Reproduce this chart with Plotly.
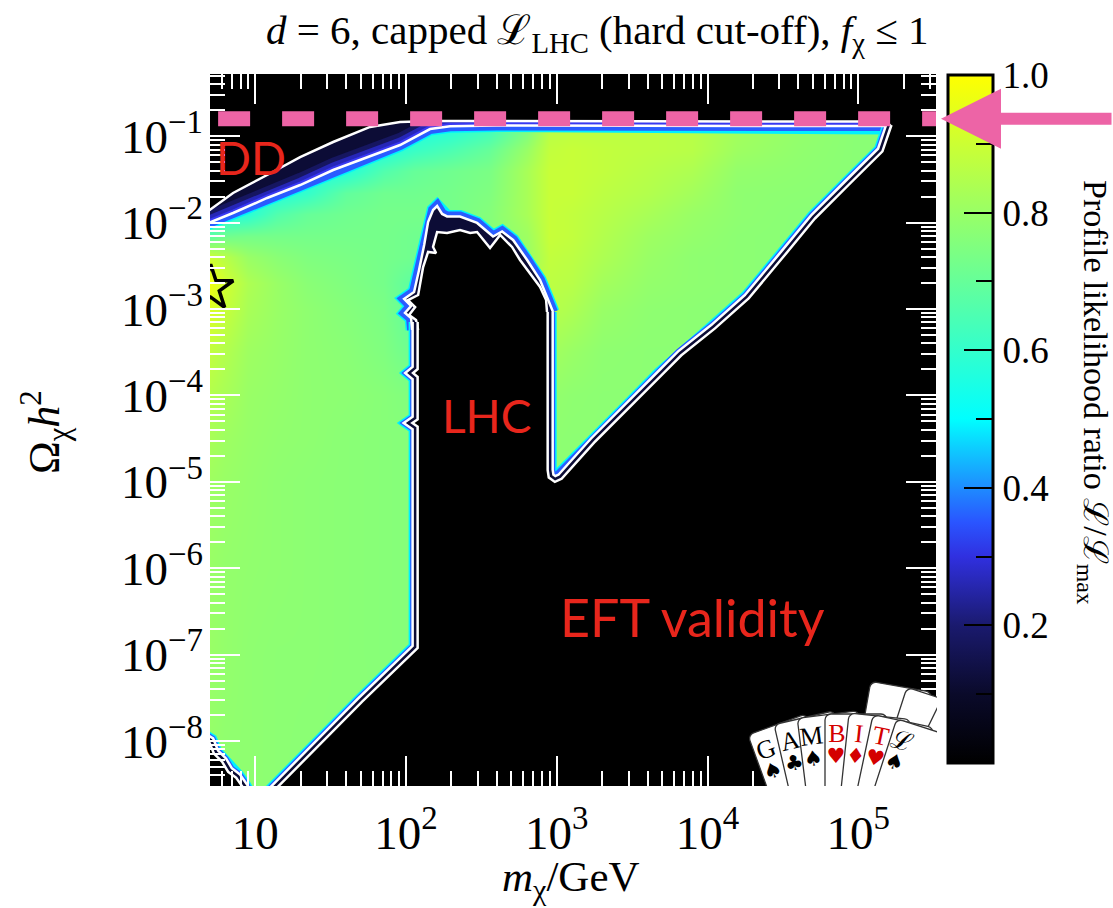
import base64
import numpy as np
import plotly.graph_objects as go

# ------------------------------------------------------------------ data
# Profile likelihood ratio read on a coarse grid (m_chi in GeV, Omega h^2)
hm_mass = [5, 6.3, 8.9, 14, 22, 40, 71, 112, 200, 355, 630, 890, 1260, 2000,
           4000, 7900, 15800, 40000, 1e5, 3.3e5]
hm_omega = [3e-9, 1e-7, 1e-6, 1e-5, 3.2e-5, 1e-4, 3.2e-4, 1e-3, 2e-3, 4e-3,
            7e-3, 1.26e-2, 2.2e-2, 4e-2, 7e-2, 0.126, 0.52]
hm_like = [
    [0.79, 0.78, 0.78, 0.775, 0.77, 0.77, 0.77, 0.77, 0.77, 0.77, 0.77, 0.77, 0.77, 0.77, 0.77, 0.77, 0.77, 0.77, 0.77, 0.77],
    [0.80, 0.79, 0.78, 0.775, 0.775, 0.77, 0.765, 0.76, 0.77, 0.77, 0.77, 0.77, 0.77, 0.77, 0.77, 0.77, 0.77, 0.77, 0.77, 0.77],
    [0.80, 0.79, 0.785, 0.78, 0.775, 0.77, 0.765, 0.76, 0.77, 0.77, 0.77, 0.77, 0.77, 0.77, 0.77, 0.77, 0.77, 0.77, 0.77, 0.77],
    [0.81, 0.80, 0.79, 0.78, 0.775, 0.77, 0.765, 0.76, 0.77, 0.77, 0.77, 0.78, 0.775, 0.77, 0.77, 0.77, 0.77, 0.77, 0.77, 0.77],
    [0.83, 0.81, 0.795, 0.785, 0.78, 0.77, 0.765, 0.76, 0.77, 0.77, 0.78, 0.78, 0.775, 0.775, 0.77, 0.77, 0.77, 0.77, 0.77, 0.77],
    [0.85, 0.83, 0.80, 0.79, 0.78, 0.775, 0.765, 0.75, 0.77, 0.77, 0.78, 0.79, 0.78, 0.775, 0.775, 0.77, 0.77, 0.77, 0.77, 0.77],
    [0.88, 0.85, 0.81, 0.795, 0.78, 0.77, 0.75, 0.71, 0.77, 0.78, 0.80, 0.82, 0.80, 0.78, 0.775, 0.775, 0.77, 0.77, 0.77, 0.77],
    [0.93, 0.89, 0.83, 0.80, 0.78, 0.76, 0.74, 0.68, 0.78, 0.80, 0.84, 0.86, 0.84, 0.80, 0.78, 0.775, 0.77, 0.77, 0.77, 0.77],
    [0.97, 0.91, 0.84, 0.80, 0.77, 0.75, 0.73, 0.68, 0.78, 0.80, 0.85, 0.87, 0.86, 0.82, 0.79, 0.78, 0.775, 0.77, 0.77, 0.77],
    [0.90, 0.86, 0.80, 0.77, 0.75, 0.74, 0.73, 0.72, 0.76, 0.78, 0.80, 0.88, 0.87, 0.84, 0.80, 0.78, 0.775, 0.77, 0.77, 0.77],
    [0.68, 0.72, 0.73, 0.73, 0.73, 0.73, 0.73, 0.72, 0.72, 0.76, 0.81, 0.89, 0.88, 0.85, 0.81, 0.79, 0.775, 0.77, 0.77, 0.77],
    [0.55, 0.56, 0.58, 0.66, 0.70, 0.72, 0.73, 0.73, 0.73, 0.76, 0.83, 0.89, 0.88, 0.86, 0.83, 0.80, 0.78, 0.77, 0.77, 0.77],
    [0.55, 0.55, 0.55, 0.56, 0.60, 0.69, 0.72, 0.72, 0.73, 0.75, 0.83, 0.89, 0.89, 0.87, 0.85, 0.82, 0.78, 0.775, 0.77, 0.77],
    [0.55, 0.55, 0.55, 0.55, 0.55, 0.57, 0.66, 0.70, 0.72, 0.74, 0.83, 0.89, 0.89, 0.88, 0.86, 0.84, 0.79, 0.78, 0.77, 0.77],
    [0.55, 0.55, 0.55, 0.55, 0.55, 0.55, 0.56, 0.61, 0.65, 0.70, 0.80, 0.88, 0.89, 0.88, 0.87, 0.86, 0.81, 0.785, 0.77, 0.77],
    [0.55, 0.55, 0.55, 0.55, 0.55, 0.55, 0.55, 0.55, 0.57, 0.62, 0.74, 0.86, 0.87, 0.87, 0.87, 0.86, 0.82, 0.79, 0.77, 0.77],
    [0.55, 0.55, 0.55, 0.55, 0.55, 0.55, 0.55, 0.55, 0.57, 0.62, 0.74, 0.86, 0.87, 0.87, 0.87, 0.86, 0.82, 0.79, 0.77, 0.77],
]

# Contour lines, in decades (log10 m, log10 Omega h^2)
dd_outer_lm = [0.60, 0.706, 0.852, 1.078, 1.297, 1.516, 1.761, 1.960, 2.179, 2.60, 3.20, 3.80, 4.40, 5.00, 5.185, 5.215]
dd_outer_lo = [-1.975, -1.841, -1.656, -1.448, -1.240, -1.066, -0.892, -0.834, -0.823, -0.823, -0.823, -0.823, -0.823, -0.823, -0.830, -0.880]
dd_inner_lm = [0.60, 0.706, 0.852, 1.078, 1.297, 1.516, 1.741, 1.960, 2.159, 2.292, 2.60, 3.20, 3.80, 4.40, 5.00, 5.17, 5.20]
dd_inner_lo = [-2.067, -1.992, -1.888, -1.714, -1.564, -1.390, -1.240, -1.101, -0.916, -0.885, -0.875, -0.875, -0.875, -0.875, -0.875, -0.882, -0.905]

hyp_lm = [5.205, 5.198, 5.146, 4.924, 4.701, 4.482, 4.261, 4.037, 3.818, 3.685, 3.464, 3.241, 3.022, 2.989, 2.962, 2.956, 2.956]
hyp_lo = [-0.860, -0.892, -1.159, -1.541, -1.931, -2.394, -2.856, -3.204, -3.508, -3.740, -4.130, -4.515, -4.940, -4.966, -4.932, -4.862, -3.034]

lhc_outer_lm = [2.040, 2.033, 1.993, 2.033, 1.987, 2.053, 2.086, 2.120, 2.146, 2.179, 2.206, 2.239, 2.272, 2.358, 2.471, 2.577, 2.637, 2.710, 2.803, 2.889, 2.943, 2.975]
lhc_outer_lo = [-3.242, -3.103, -3.045, -2.964, -2.883, -2.802, -2.548, -2.258, -1.992, -1.853, -1.807, -1.899, -1.928, -1.928, -2.003, -2.160, -2.102, -2.200, -2.432, -2.663, -2.895, -3.034]
lhc_inner_lm = [2.080, 2.066, 2.020, 2.060, 2.013, 2.080, 2.113, 2.146, 2.199, 2.179, 2.206, 2.272, 2.358, 2.425, 2.471, 2.557, 2.624, 2.703, 2.756, 2.823, 2.889, 2.929, 2.935]
lhc_inner_lo = [-3.242, -3.126, -3.068, -2.976, -2.895, -2.837, -2.513, -2.339, -2.351, -2.281, -2.108, -2.119, -2.084, -2.119, -2.108, -2.293, -2.142, -2.281, -2.432, -2.582, -2.744, -2.895, -3.034]

strip_lm = [2.060, 2.060, 2.020, 2.060, 2.060, 2.013, 2.060, 2.060, 1.695, 1.297, 1.131, 1.032]
strip_lo = [-3.15, -3.682, -3.740, -3.798, -4.261, -4.318, -4.376, -6.911, -7.525, -8.220, -8.522, -8.695]

corner_lm = [0.633, 0.706, 0.739, 0.792, 0.832, 0.885, 0.932, 0.965]
corner_lo = [-7.906, -7.989, -8.128, -8.220, -8.336, -8.405, -8.522, -8.626]

best_fit_mass, best_fit_omega = 5.05, 1.75e-3
relic_omega = 0.16
relic_line_mass = [5.66, 4e5]

x_tickvals = [10, 100, 1e3, 1e4, 1e5]
x_ticktext = ["10", "10<sup>2</sup>", "10<sup>3</sup>", "10<sup>4</sup>", "10<sup>5</sup>"]
y_tickvals = [1e-8, 1e-7, 1e-6, 1e-5, 1e-4, 1e-3, 1e-2, 1e-1]
y_ticktext = ["10<sup>\u2212%d</sup>" % k for k in range(8, 0, -1)]
cb_major = [0.2, 0.4, 0.6, 0.8, 1.0]
cb_major_text = ["0.2", "0.4", "0.6", "0.8", "1.0"]
cb_minor = [0.1, 0.3, 0.5, 0.7, 0.9]

# ------------------------------------------------------------------ layout constants
W, H = 1113, 908
ML, MR, MT, MB = 210, 177, 74, 122
PW, PH = W - ML - MR, H - MT - MB
X_RANGE = [np.log10(5.0), 5.516]
Y_RANGE = [-8.520, -0.279]
SERIF = "Liberation Serif"
RED = "#e8261c"
PINK = "#ed64a6"
NAVY = "#0c0c36"

CSCALE = [[0.0, '#000000'], [0.1, '#0a0a2a'], [0.2, '#1a1a6e'], [0.3, '#3030e0'],
          [0.35, '#2a55ff'], [0.4, '#1e8cff'], [0.45, '#10c4ff'], [0.5, '#00ffff'],
          [1.0, '#ffff00']]


def P(lm, lo, dlo=0.0):
    return 10 ** np.asarray(lm, float), 10 ** (np.asarray(lo, float) + dlo)


def line(lm, lo, color, width, dlo=0.0):
    x, y = P(lm, lo, dlo)
    return go.Scatter(x=x, y=y, mode='lines', line=dict(color=color, width=width),
                      hoverinfo='skip', showlegend=False)


def poly(lm, lo, color):
    x, y = P(lm, lo)
    return go.Scatter(x=x, y=y, mode='lines', fill='toself', fillcolor=color,
                      line=dict(width=0, color=color), hoverinfo='skip', showlegend=False)


cb_common = dict(thickness=45, thicknessmode='pixels', len=688, lenmode='pixels',
                 x=1 + 12 / PW, xanchor='left', xpad=0, y=1 - 1 / PH, yanchor='top', ypad=0)

fig = go.Figure()
fig.add_trace(go.Heatmap(
    x=hm_mass, y=hm_omega, z=hm_like, zmin=0, zmax=1, zsmooth='best',
    colorscale=CSCALE, hoverinfo='skip',
    colorbar=dict(**cb_common, outlinecolor='black', outlinewidth=3,
                  ticks='inside', ticklen=30, tickwidth=2, tickcolor='black',
                  tickvals=cb_major, ticktext=cb_major_text,
                  tickfont=dict(family=SERIF, size=37, color='black'))))
# transparent second colour bar carrying the short (minor) ticks
fig.add_trace(go.Scatter(
    x=[None], y=[None], mode='markers', showlegend=False, hoverinfo='skip',
    marker=dict(color=[0.5], cmin=0, cmax=1, showscale=True,
                colorscale=[[0, 'rgba(0,0,0,0)'], [1, 'rgba(0,0,0,0)']],
                colorbar=dict(**cb_common, outlinewidth=0, bgcolor='rgba(0,0,0,0)',
                              ticks='inside', ticklen=17, tickwidth=1.5, tickcolor='black',
                              tickvals=cb_minor, showticklabels=False))))

# glow along the boundaries of the allowed (green) region
for lm, lo in [(dd_inner_lm, dd_inner_lo), (lhc_outer_lm, lhc_outer_lo), (hyp_lm, hyp_lo),
               (strip_lm, strip_lo), (corner_lm, corner_lo)]:
    fig.add_trace(line(lm, lo, '#00f0ff', 13))
    fig.add_trace(line(lm, lo, '#2a5cff', 10))

# 1-2 sigma bands
fig.add_trace(poly(dd_outer_lm + dd_inner_lm[::-1], dd_outer_lo + dd_inner_lo[::-1], NAVY))
fig.add_trace(poly(lhc_outer_lm + lhc_inner_lm[::-1], lhc_outer_lo + lhc_inner_lo[::-1], NAVY))
fig.add_trace(line(dd_inner_lm, dd_inner_lo, '#161660', 9, dlo=0.09))
fig.add_trace(line(dd_inner_lm, dd_inner_lo, '#2626b8', 7, dlo=0.045))
fig.add_trace(line(dd_inner_lm, dd_inner_lo, '#3838f2', 3.5, dlo=0.02))

# excluded (black) regions
fig.add_trace(poly([0.5] + dd_outer_lm + [5.7, 5.7, 0.5],
                   [-2.05] + dd_outer_lo + [-0.85, 0.5, 0.5], 'black'))
fig.add_trace(poly([5.7] + hyp_lm + lhc_inner_lm[::-1] + strip_lm + [5.7],
                   [-0.85] + hyp_lo + lhc_inner_lo[::-1] + strip_lo + [-8.8], 'black'))
fig.add_trace(poly(corner_lm + [0.5, 0.5], corner_lo + [-8.8, -7.9], 'black'))

# contour lines
for lm, lo in [(dd_outer_lm, dd_outer_lo), (dd_inner_lm, dd_inner_lo),
               (lhc_outer_lm, lhc_outer_lo), (lhc_inner_lm, lhc_inner_lo)]:
    fig.add_trace(line(lm, lo, 'white', 2.5))
for lm, lo in [(hyp_lm, hyp_lo), (strip_lm, strip_lo), (corner_lm, corner_lo)]:
    fig.add_trace(line(lm, lo, 'white', 7.5))
    fig.add_trace(line(lm, lo, NAVY, 2.5))

# best fit point
fig.add_trace(go.Scatter(x=[best_fit_mass], y=[best_fit_omega], mode='markers',
                         marker=dict(symbol='star-open', size=34, color='black',
                                     line=dict(color='black', width=3.5)),
                         hoverinfo='skip', showlegend=False))
# relic density line
fig.add_trace(go.Scatter(x=relic_line_mass, y=[relic_omega] * 2, mode='lines',
                         line=dict(color=PINK, width=15, dash='32px,32px'),
                         hoverinfo='skip', showlegend=False))

# ------------------------------------------------------------------ GAMBIT logo (SVG)
PX, PY = 101, 268
cards_back = [10, 18, 26]
cards_front = [(-20, 'G', '\u2660', 'black'), (-13, 'A', '\u2663', 'black'),
               (-7, 'M', '\u2660', 'black'), (0, 'B', '\u2665', '#d40000'),
               (6, 'I', '\u2666', '#d40000'), (12, 'T', '\u2665', '#d40000'),
               (18, '\u2112', '\u2660', 'black')]
svg = ['<svg xmlns="http://www.w3.org/2000/svg" width="192" height="111" viewBox="0 0 192 111">']
for th in cards_back:
    svg.append(f'<g transform="rotate({th} {PX} {PY})"><rect x="{PX-21}" y="{PY-262}" width="62" '
               f'height="262" rx="6" fill="white" stroke="#333" stroke-width="1.3"/></g>')
for th, let, suit, col in cards_front:
    svg.append(f'<g transform="rotate({th} {PX} {PY})">'
               f'<rect x="{PX-21}" y="{PY-229}" width="62" height="229" rx="6" fill="white" '
               f'stroke="#333" stroke-width="1.3"/>'
               f'<text x="{PX-9}" y="{PY-229+28}" font-family="Liberation Serif" font-size="26" '
               f'fill="{col}" text-anchor="middle">{let}</text>'
               f'<text x="{PX-10}" y="{PY-229+49}" font-family="DejaVu Sans" font-size="21" '
               f'fill="{col}" text-anchor="middle">{suit}</text></g>')
svg.append('</svg>')
logo_uri = 'data:image/svg+xml;base64,' + base64.b64encode(''.join(svg).encode('utf-8')).decode()

# ------------------------------------------------------------------ layout
axis_common = dict(type='log', showgrid=False, zeroline=False, showline=False,
                   ticks='inside', ticklen=30, tickwidth=2, tickcolor='white', mirror='ticks',
                   tickfont=dict(family=SERIF, size=47, color='black'),
                   minor=dict(ticks='inside', ticklen=15, tickwidth=1.5, tickcolor='white',
                              dtick='D1', showgrid=False))
fig.update_layout(
    width=W, height=H, margin=dict(l=ML, r=MR, t=MT, b=MB),
    paper_bgcolor='white', plot_bgcolor='black', showlegend=False,
    xaxis=dict(**axis_common, range=X_RANGE, tickvals=x_tickvals, ticktext=x_ticktext,
               ticklabelstandoff=15),
    yaxis=dict(**axis_common, range=Y_RANGE, tickvals=y_tickvals, ticktext=y_ticktext,
               ticklabelstandoff=6),
    images=[dict(source=logo_uri, xref='paper', yref='paper', x=(745 - ML) / PW,
                 y=(H - MB - 675) / PH, sizex=192 / PW, sizey=111 / PH,
                 xanchor='left', yanchor='top', sizing='stretch', layer='above')],
)

ann = []
for txt, m, om, size in [("DD", 9.35, 0.0575, 46), ("LHC", 340, 5.8e-5, 46),
                         ("EFT validity", 7900, 2.7e-7, 52)]:
    ann.append(dict(text=txt, x=np.log10(m), y=np.log10(om), xref='x', yref='y',
                    xanchor='center', yanchor='middle',
                    showarrow=False, font=dict(family='Lato', size=size, color=RED)))
ann.append(dict(text='<i>d</i> = 6, capped \u2112<sub>LHC</sub> (hard cut-off), <i>f</i><sub>\u03c7</sub> \u2264 1',
                x=(930 - ML) / PW, y=1 + (MT - 33) / PH, xref='paper', yref='paper',
                xanchor='right', yanchor='middle', showarrow=False,
                font=dict(family=SERIF, size=41, color='black')))
ann.append(dict(text='<i>m</i><sub>\u03c7</sub>/GeV', x=(571 - ML) / PW, y=-(880 - (H - MB)) / PH,
                xref='paper', yref='paper', xanchor='center', yanchor='middle', showarrow=False,
                font=dict(family=SERIF, size=43, color='black')))
ann.append(dict(text='\u03a9<sub>\u03c7</sub><i>h</i><sup>2</sup>', x=(45 - ML) / PW, y=1 - (432 - MT) / PH,
                xref='paper', yref='paper', xanchor='center', yanchor='middle',
                textangle=-90, showarrow=False,
                font=dict(family=SERIF, size=44, color='black')))
ann.append(dict(text='Profile likelihood ratio \u2112/\u2112<sub>max</sub>',
                x=(1093 - ML) / PW, y=1 - (392 - MT) / PH, xref='paper', yref='paper',
                xanchor='center', yanchor='middle',
                textangle=90, showarrow=False, font=dict(family=SERIF, size=34, color='black')))
# arrow marking the relic density
ann.append(dict(text='', x=(941 - ML) / PW, y=np.log10(relic_omega), xref='paper', yref='y',
                showarrow=True, ax=185, ay=0, arrowhead=2, arrowsize=1, arrowwidth=12,
                arrowcolor=PINK))
fig.update_layout(annotations=ann)

fig.write_html("out.html")
